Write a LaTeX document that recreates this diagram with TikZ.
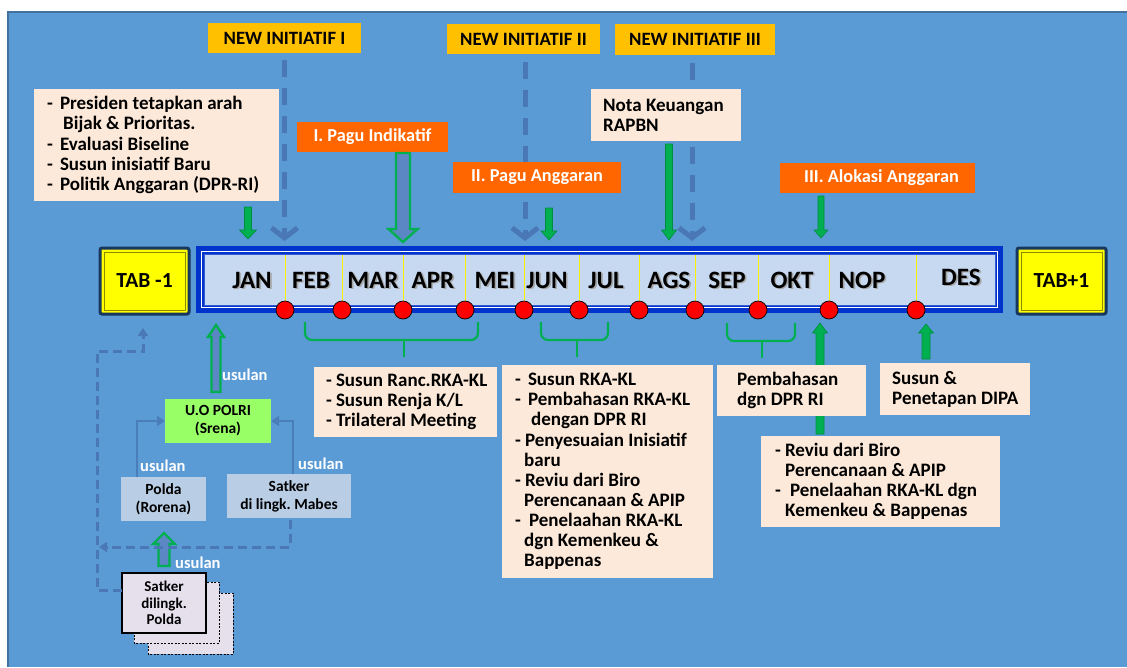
\documentclass[tikz,border=0pt]{standalone}
\usepackage{fontspec}
\setmainfont{Carlito}
\usetikzlibrary{arrows.meta}

\definecolor{bgblue}{HTML}{5B9BD5}
\definecolor{bgedge}{HTML}{41719C}
\definecolor{niyellow}{HTML}{FFC000}
\definecolor{pagu}{HTML}{FF6600}
\definecolor{peach}{HTML}{FDE9D9}
\definecolor{arrgreen}{HTML}{00B050}
\definecolor{dashblue}{HTML}{4A78B6}
\definecolor{tlblue}{HTML}{0033CC}
\definecolor{tllight}{HTML}{C6D9F1}
\definecolor{tabyellow}{HTML}{FFFF00}
\definecolor{tabedge}{HTML}{17375E}
\definecolor{tabinner}{HTML}{8C8C00}
\definecolor{uogreen}{HTML}{99FF66}
\definecolor{unitblue}{HTML}{B9CDE5}
\definecolor{lavender}{HTML}{E6E0EC}
\definecolor{hollow}{HTML}{5B87C4}
\definecolor{linkblue}{HTML}{4A7EBB}

% block arrow: [style]{x}{start y}{tip y}{shaft half width}{head half width}{signed head length}
\newcommand\blkarrow[7][]{%
  \draw[#1] ({#2-#5},#3) -- ({#2-#5},{#4-(#7)}) -- ({#2-#6},{#4-(#7)}) -- (#2,#4)
    -- ({#2+#6},{#4-(#7)}) -- ({#2+#5},{#4-(#7)}) -- ({#2+#5},#3) -- cycle;}
% month label with a soft grey drop shadow behind it
\newcommand\shadowed[1]{\makebox[0pt][l]{\hspace{1.6pt}\raisebox{-1.8pt}[0pt][0pt]{\color{black!35}#1}}#1}

\begin{document}
\begin{tikzpicture}[x=1pt,y=-1pt,
  box/.style={anchor=north west, inner sep=0pt, outer sep=0pt},
  nibox/.style={box, fill=niyellow, text=black, font=\bfseries\fontsize{18.8}{21}\selectfont},
  pagubox/.style={box, fill=pagu, text=white, font=\bfseries\fontsize{18.3}{21}\selectfont},
  peachbox/.style={box, fill=peach},
  bodytext/.style={anchor=west, inner sep=0pt, align=left, text=black,
    font=\bfseries\fontsize{19}{20.1}\selectfont},
  month/.style={inner sep=0pt, text=black, font=\bfseries\fontsize{25}{28}\selectfont},
  tabbox/.style={box, fill=tabyellow, draw=tabedge, line width=3pt, rounded corners=2pt,
    font=\bfseries\fontsize{21.5}{24}\selectfont},
  divline/.style={draw=yellow, line width=1pt},
  dot/.style={circle, fill=red, draw=black, line width=0.7pt, minimum size=18pt, inner sep=0pt},
  brace/.style={draw=arrgreen, line width=2.2pt, rounded corners=7pt},
  niarrow/.style={draw=dashblue, line width=5pt, dash pattern=on 17pt off 11pt,
    -{Straight Barb[length=10pt, width=26pt]}},
  dline/.style={draw=dashblue, line width=3pt, dash pattern=on 9pt off 5pt},
  bluearr/.style={draw=linkblue, line width=2.5pt, -{Triangle[length=8pt, width=10pt]}},
  garrow/.style={fill=arrgreen, draw=arrgreen!80!black, line width=0.6pt},
  hollowarrow/.style={fill=hollow, draw=arrgreen, line width=2.4pt},
  unitbox/.style={box, text=black, align=center, font=\bfseries\fontsize{15.5}{18}\selectfont},
  usulan/.style={inner sep=0pt, anchor=west, text=white, font=\bfseries\fontsize{16.5}{18}\selectfont}
]
\useasboundingbox (0,0) rectangle (1127,667);
\fill[white] (0,0) rectangle (1127,667);
\fill[bgblue] (8,12) rectangle (1127,667);
\draw[bgedge, line width=2pt] (8,667) -- (8,12) -- (1127,12);

% ---------- timeline ----------
\node[box, fill=tlblue, minimum width=807, minimum height=67] (tl) at (196,246) {};
\draw[white, line width=1.2pt] (201.5,251.5) rectangle (997.5,307.5);
\fill[tllight] (204,254) rectangle (995,305);
\draw[tlblue!80, line width=0.8pt] (204,254) rectangle (995,305);
\coordinate (tltop) at (0,241);

\foreach \m/\x [count=\i] in {JAN/252,FEB/311,MAR/373,APR/433,MEI/495,JUN/547,JUL/606,AGS/669,SEP/727,OKT/792,NOP/862,DES/961}{
  \node[month] (m\i) at (\x,{\i==12 ? 277 : 280}) {\shadowed{\m}};
}
\foreach \x [count=\i] in {285,342,403,465,524,579,639,695,758,829,916}{
  \draw[divline] (\x,255) -- (\x,302);
  \node[dot] (d\i) at (\x,310) {};
}

% ---------- year boxes ----------
\node[tabbox, minimum width=89, minimum height=66] (tabm) at (100,248) {TAB -1};
\draw[tabinner, line width=0.8pt] ([xshift=4pt,yshift=-4pt]tabm.north west) rectangle ([xshift=-4pt,yshift=4pt]tabm.south east);
\node[tabbox, minimum width=89, minimum height=66] (tabp) at (1017,248) {TAB+1};
\draw[tabinner, line width=0.8pt] ([xshift=4pt,yshift=-4pt]tabp.north west) rectangle ([xshift=-4pt,yshift=4pt]tabp.south east);

% ---------- new initiatives ----------
\node[nibox, minimum width=153, minimum height=30] (ni1) at (208,23) {NEW INITIATIF I};
\node[nibox, minimum width=153, minimum height=30] (ni2) at (447,24) {NEW INITIATIF II};
\node[nibox, minimum width=160, minimum height=31] (ni3) at (615,24) {NEW INITIATIF III};
\draw[niarrow] ([yshift=-7pt]ni1.south) -- (ni1.south |- tltop);
\draw[niarrow] ([xshift=1.5pt,yshift=-8pt]ni2.south) -- ([xshift=1.5pt]ni2.south |- tltop);
\draw[niarrow] ([xshift=-3pt,yshift=-8pt]ni3.south) -- ([xshift=-3pt]ni3.south |- tltop);

% ---------- top notes ----------
\node[peachbox, minimum width=245, minimum height=112] (lb) at (34,89) {};
\node[bodytext] (lbt) at ([xshift=13pt]lb.west) {-\hspace{7pt}Presiden tetapkan arah\\
\hspace{16pt}Bijak \& Prioritas.\\
-\hspace{7pt}Evaluasi Biseline\\
-\hspace{7pt}Susun inisiatif Baru\\
-\hspace{7pt}Politik Anggaran (DPR-RI)};

\node[peachbox, minimum width=150, minimum height=52] (nota) at (591,89) {};
\node[bodytext] (notat) at ([xshift=12pt]nota.west) {Nota Keuangan\\RAPBN};

\node[pagubox, minimum width=151, minimum height=30] (p1) at (297,122) {I. Pagu Indikatif};
\node[pagubox, minimum width=168, minimum height=31] (p2) at (453,162) {II. Pagu Anggaran};
\node[pagubox, minimum width=195, minimum height=30] (p3) at (780,163) {\hspace{8pt}III. Alokasi Anggaran};

% ---------- arrows into the timeline ----------
\blkarrow[garrow]{248}{207}{239}{3.5}{8.5}{9}
\blkarrow[hollowarrow]{403}{153}{242}{7}{14.5}{13}
\blkarrow[garrow]{549}{208}{240}{3.5}{8}{9}
\blkarrow[garrow]{669}{144}{240}{3.5}{7.5}{10}
\blkarrow[garrow]{821}{196}{238}{3}{7}{8}

% ---------- braces ----------
\draw[brace] (305,322) -- (305,340) -- (404,340);
\draw[brace] (478,322) -- (478,340) -- (404,340);
\draw[arrgreen, line width=2.2pt] (404,340) -- (404,357);
\draw[brace] (541,322) -- (541,340) -- (577,340);
\draw[brace] (608,322) -- (608,340) -- (577,340);
\draw[arrgreen, line width=2.2pt] (577,340) -- (577,357);
\draw[brace] (727,323) -- (727,341) -- (762,341);
\draw[brace] (795,323) -- (795,341) -- (762,341);
\draw[arrgreen, line width=2.2pt] (762,341) -- (762,358);

% ---------- arrows from below ----------
\blkarrow[garrow]{820}{434}{323}{4}{7.5}{-10}
\blkarrow[garrow]{926}{359}{324}{4}{7.5}{-9}

% ---------- lower notes ----------
\node[peachbox, minimum width=183, minimum height=70] (rk) at (314,367) {};
\node[bodytext] (rkt) at ([xshift=12pt]rk.west) {-\hspace{4pt}Susun Ranc.RKA-KL\\
-\hspace{4pt}Susun Renja K/L\\
-\hspace{4pt}Trilateral Meeting};

\node[peachbox, minimum width=211, minimum height=213] (big) at (502,365) {};
\node[bodytext] (bigt) at ([xshift=13pt]big.west) {-\hspace{7pt}Susun RKA-KL\\
-\hspace{7pt}Pembahasan RKA-KL\\
\hspace{16pt}dengan DPR RI\\
-\hspace{4pt}Penyesuaian Inisiatif\\
\hspace{9pt}baru\\
-\hspace{4pt}Reviu dari Biro\\
\hspace{9pt}Perencanaan \& APIP\\
-\hspace{8pt}Penelaahan RKA-KL\\
\hspace{9pt}dgn Kemenkeu \&\\
\hspace{9pt}Bappenas};

\node[peachbox, minimum width=149, minimum height=51] (dpr) at (717,365) {};
\node[bodytext] (dprt) at ([xshift=20pt]dpr.west) {Pembahasan\\dgn DPR RI};

\node[peachbox, minimum width=150, minimum height=52] (dipa) at (880,363) {};
\node[bodytext] (dipat) at ([xshift=12pt]dipa.west) {Susun \&\\Penetapan DIPA};

\node[peachbox, minimum width=239, minimum height=91] (rv) at (761,436) {};
\node[bodytext] (rvt) at ([xshift=14pt]rv.west) {-\hspace{4pt}Reviu dari Biro\\
\hspace{10pt}Perencanaan \& APIP\\
-\hspace{9pt}Penelaahan RKA-KL dgn\\
\hspace{10pt}Kemenkeu \& Bappenas};

% ---------- proposal flow ----------
\node[unitbox, fill=uogreen, minimum width=106, minimum height=44] (uo) at (165,399) {U.O POLRI\\(Srena)};
\node[unitbox, fill=unitblue, minimum width=85, minimum height=44] (polda) at (121,477) {Polda\\(Rorena)};
\node[unitbox, fill=unitblue, minimum width=124, minimum height=44] (mabes) at (227,474) {Satker\\di lingk.\ Mabes};

\draw[fill=lavender, draw=black, line width=0.8pt, dash pattern=on 2pt off 1.5pt] (148,593) rectangle (233,654);
\draw[fill=lavender, draw=black, line width=0.8pt, dash pattern=on 2pt off 1.5pt] (134,582) rectangle (219,643);
\node[unitbox, fill=lavender, draw=black, line width=1.2pt, minimum width=84, minimum height=60,
  font=\bfseries\fontsize{15}{16.5}\selectfont] (sp) at (122,573) {Satker\\dilingk.\\Polda};

\blkarrow[hollowarrow]{216}{392}{325}{4.5}{8}{-12}
\blkarrow[hollowarrow]{164}{566}{533}{5.5}{11}{-11}

\draw[bluearr] ([xshift=-26.5pt]polda.north) |- (uo.west);
\draw[bluearr] ([xshift=4pt]mabes.north) |- (uo.east);

\coordinate (mabesend) at (99,547);
\coordinate (tabup) at (143,328);
\draw[dline, -{Triangle[length=8pt, width=10pt]}] ([xshift=1pt,yshift=-2pt]mabes.south) |- (mabesend);
\draw[dline, -{Triangle[length=8pt, width=10pt]}] ([yshift=13pt]sp.west) -- (97,590) -- (97,351) -| (tabup);

\node[usulan] (u1) at (222,375) {usulan};
\node[usulan] (u2) at (140,466) {usulan};
\node[usulan] (u3) at (298,464) {usulan};
\node[usulan] (u4) at (175,563) {usulan};
\end{tikzpicture}
\end{document}
